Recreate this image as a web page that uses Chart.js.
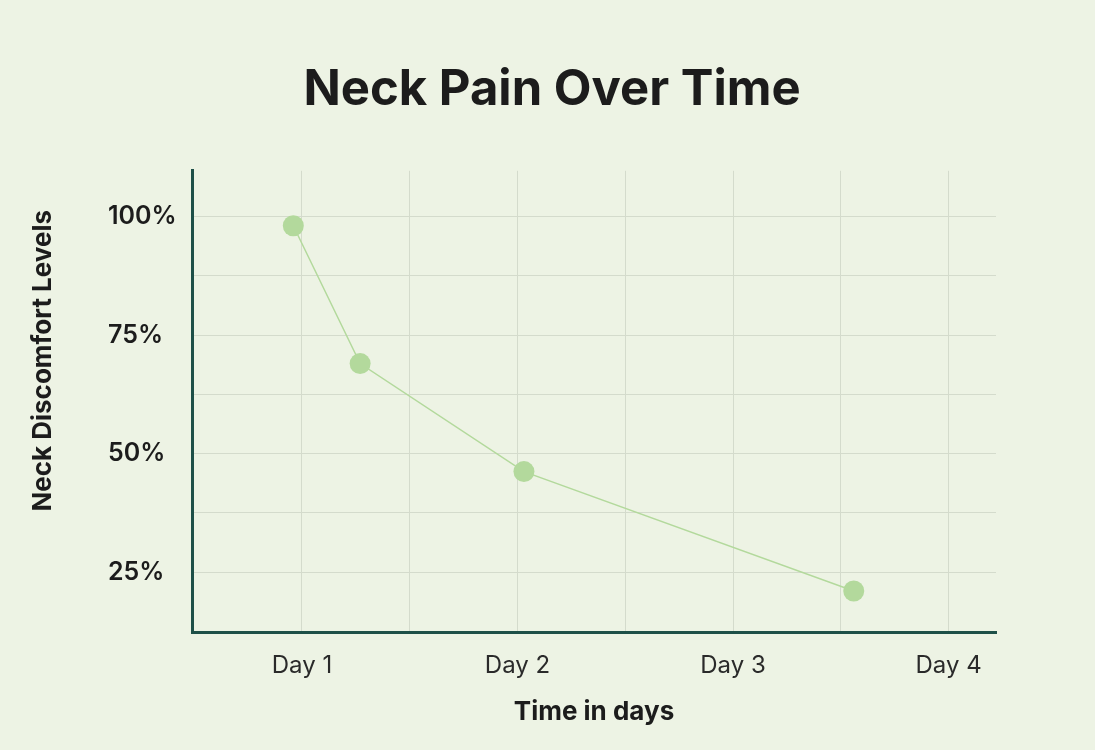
<!DOCTYPE html>
<html lang="en">
<head>
    <meta charset="UTF-8">
    <title>Neck Pain Over Time</title>
    <script src="https://cdn.jsdelivr.net/npm/chart.js"></script>
    <style>
        html, body { margin: 0; padding: 0; background-color: #edf3e4; }
        .wrap { position: relative; width: 1095px; height: 750px; }
    </style>
</head>
<body>
    <div class="wrap">
        <canvas id="painChart" width="1095" height="750"></canvas>
    </div>
    <script>
        // Data
        const dayValues = [0.96, 1.27, 2.03, 3.56];
        const discomfort = [98.1, 69.0, 46.2, 21.0];
        const xTicks = [1, 1.5, 2, 2.5, 3, 3.5, 4];
        const yTicks = [25, 37.5, 50, 62.5, 75, 87.5, 100];
        const chartTitle = 'Neck Pain Over Time';
        const xTitle = 'Time in days';
        const yTitle = 'Neck Discomfort Levels';

        const textColor = '#1c1c1c';
        const gridColor = '#d4dbcc';
        const axisColor = '#1e5048';

        // y axis title sits left of the tick labels
        const yTitlePlugin = {
            id: 'yTitle',
            afterDraw(chart) {
                const ctx = chart.ctx;
                ctx.save();
                ctx.translate(43, chart.chartArea.top + 190);
                ctx.rotate(-Math.PI / 2);
                ctx.font = 'bold 26px Inter';
                ctx.fillStyle = textColor;
                ctx.textAlign = 'center';
                ctx.textBaseline = 'middle';
                ctx.fillText(yTitle, 0, 0);
                ctx.restore();
            }
        };

        const ctx = document.getElementById('painChart').getContext('2d');
        new Chart(ctx, {
            type: 'line',
            data: {
                datasets: [{
                    data: dayValues.map((d, i) => ({ x: d, y: discomfort[i] })),
                    borderColor: '#b3d99c',
                    borderWidth: 1.5,
                    backgroundColor: '#b3d99c',
                    pointBackgroundColor: '#b3d99c',
                    pointBorderWidth: 0,
                    pointRadius: 10.5,
                    tension: 0
                }]
            },
            options: {
                responsive: false,
                animation: false,
                layout: { padding: { left: 108, right: 99, top: 0, bottom: 11 } },
                plugins: {
                    legend: { display: false },
                    tooltip: { enabled: false },
                    title: {
                        display: true,
                        text: chartTitle,
                        color: textColor,
                        font: { family: 'Inter', size: 49, weight: 'bold' },
                        padding: { top: 61, bottom: 51 }
                    }
                },
                scales: {
                    x: {
                        type: 'linear',
                        min: 0.49,
                        max: 4.22,
                        afterBuildTicks: axis => { axis.ticks = xTicks.map(v => ({ value: v })); },
                        grid: { color: gridColor, lineWidth: 1, drawTicks: false },
                        border: { color: axisColor, width: 3 },
                        ticks: {
                            padding: 19,
                            color: '#2a2a2a',
                            font: { family: 'Inter', size: 24, weight: 'normal' },
                            callback: v => Number.isInteger(v) ? 'Day ' + v : ''
                        },
                        title: {
                            display: true,
                            text: xTitle,
                            color: textColor,
                            font: { family: 'Inter', size: 26, weight: 'bold', lineHeight: 1 },
                            padding: { top: 0, bottom: 14 }
                        }
                    },
                    y: {
                        min: 12.3,
                        max: 109.7,
                        afterBuildTicks: axis => { axis.ticks = yTicks.map(v => ({ value: v })); },
                        afterFit: scale => { scale.width = 84; },
                        grid: { color: gridColor, lineWidth: 1, drawTicks: false },
                        border: { color: axisColor, width: 3 },
                        ticks: {
                            crossAlign: 'far',
                            color: textColor,
                            font: { family: 'Inter', size: 25, weight: '600' },
                            callback: v => v % 25 === 0 ? v + '%' : ''
                        }
                    }
                }
            },
            plugins: [yTitlePlugin]
        });
    </script>
</body>
</html>
